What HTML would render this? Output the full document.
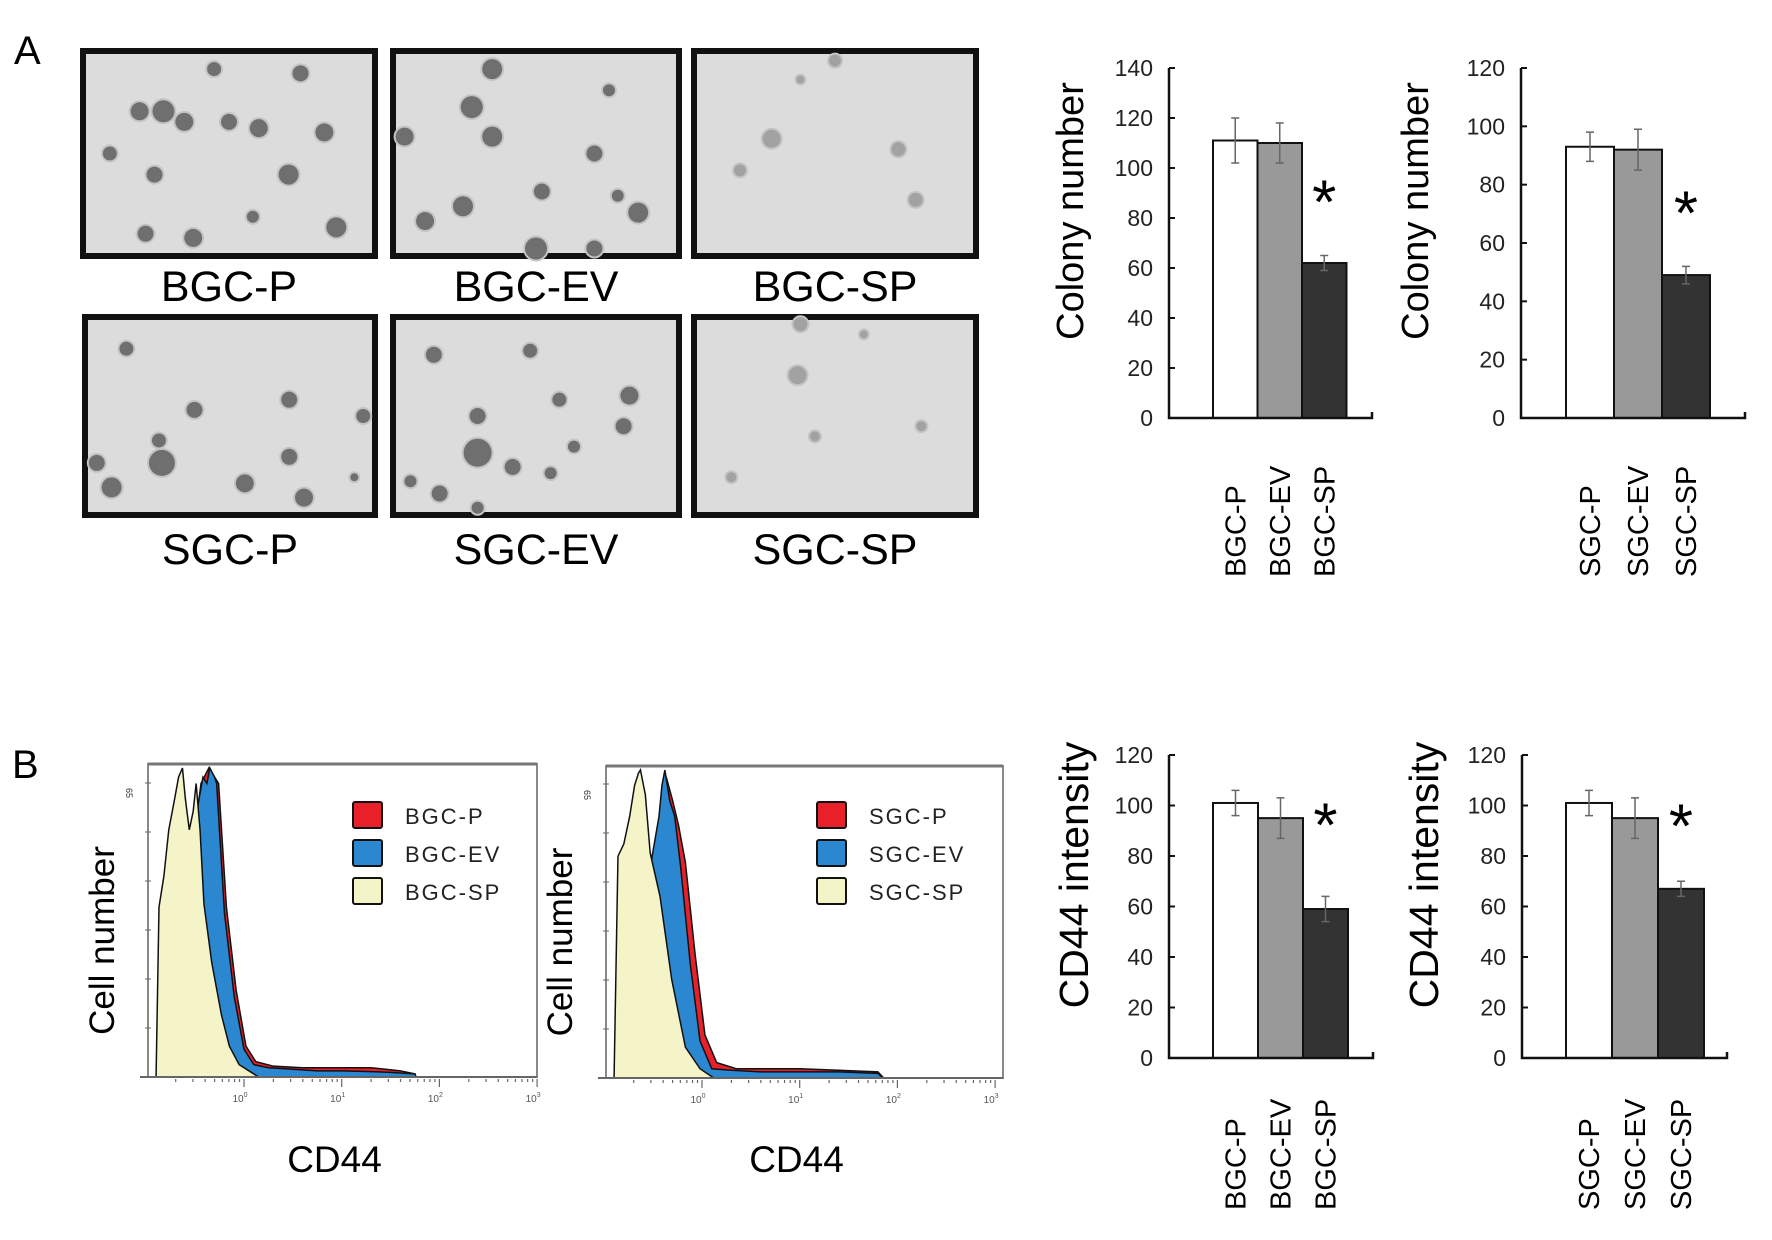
<!DOCTYPE html>
<html><head><meta charset="utf-8"><style>
body{margin:0;background:#fff;}
svg{display:block;font-family:"Liberation Sans",sans-serif;}
</style></head><body>
<svg id="fig" width="1772" height="1240" viewBox="0 0 1772 1240" xmlns="http://www.w3.org/2000/svg">
<rect width="1772" height="1240" fill="#fff"/>
<text x="14" y="64" font-size="40">A</text>
<text x="12" y="778" font-size="40">B</text>
<g id="photos"></g>
<g id="bars"></g>
<g id="flows"></g>
</svg>
<script>
// ===== bar chart data =====
const barCats1 = ["BGC-P","BGC-EV","BGC-SP"];
const barVals1 = [111,110,62];
const barErr1 = [9,8,3];
const barTicks1 = [0,20,40,60,80,100,120,140];
const barCats2 = ["SGC-P","SGC-EV","SGC-SP"];
const barVals2 = [93,92,49];
const barErr2 = [5,7,3];
const barTicks2 = [0,20,40,60,80,100,120];
const barVals3 = [101,95,59];
const barErr3 = [5,8,5];
const barTicks3 = [0,20,40,60,80,100,120];
const barVals4 = [101,95,67];
const barErr4 = [5,8,3];
const barTicks4 = [0,20,40,60,80,100,120];

// ===== flow histogram data (x = log10 CD44, y = fraction of max count) =====
const f1SpX = [-0.9,-0.87,-0.82,-0.77,-0.71,-0.67,-0.63,-0.6,-0.56,-0.52,-0.49,-0.45,-0.41,-0.33,-0.23,-0.15,-0.05,0.05,0.15];
const f1SpY = [0,0.55,0.65,0.8,0.9,0.97,1.0,0.9,0.8,0.86,0.95,0.8,0.56,0.37,0.2,0.1,0.04,0.02,0];
const f1EvX = [-0.9,-0.46,-0.42,-0.38,-0.35,-0.3,-0.28,-0.2,-0.1,0,0.1,0.25,0.5,0.75,1.0,1.25,1.5,1.75,1.76];
const f1EvY = [0,0.9,0.97,0.95,1.0,0.97,0.95,0.53,0.26,0.09,0.04,0.03,0.025,0.02,0.02,0.018,0.015,0.01,0];
const f1PX = [-0.9,-0.48,-0.44,-0.36,-0.3,-0.26,-0.18,-0.08,0.02,0.12,0.3,0.6,1.0,1.3,1.6,1.75,1.76];
const f1PY = [0,0.85,0.95,1.0,0.97,0.95,0.55,0.28,0.1,0.05,0.035,0.03,0.03,0.03,0.02,0.01,0];
const f2SpX = [-0.9,-0.86,-0.8,-0.74,-0.69,-0.65,-0.63,-0.58,-0.53,-0.48,-0.43,-0.31,-0.17,-0.02,0.12];
const f2SpY = [0,0.72,0.76,0.85,0.95,0.99,1.0,0.92,0.73,0.66,0.59,0.32,0.1,0.03,0];
const f2EvX = [-0.9,-0.44,-0.41,-0.38,-0.33,-0.28,-0.22,-0.12,-0.02,0.1,0.3,0.6,1.0,1.4,1.8,1.85];
const f2EvY = [0,0.85,0.95,1.0,0.9,0.85,0.69,0.37,0.12,0.03,0.025,0.02,0.02,0.02,0.015,0];
const f2PX = [-0.9,-0.44,-0.4,-0.36,-0.3,-0.24,-0.17,-0.07,0.03,0.15,0.35,0.7,1.0,1.4,1.8,1.86];
const f2PY = [0,0.8,0.92,0.97,0.9,0.82,0.7,0.4,0.14,0.05,0.03,0.03,0.03,0.025,0.02,0];

const NS="http://www.w3.org/2000/svg";
function mk(tag, attrs, parent){const e=document.createElementNS(NS,tag);for(const k in attrs)e.setAttribute(k,attrs[k]);parent.appendChild(e);return e;}

// ===== photos =====
const photos=document.getElementById('photos');
const photoBoxes=[[80,48,298,211,"BGC-P"],[390,48,292,211,"BGC-EV"],[691,48,288,211,"BGC-SP"],
 [82,314,296,204,"SGC-P"],[390,314,292,204,"SGC-EV"],[691,314,288,204,"SGC-SP"]];
const blobs=[
 [[.2,.3,9],[.28,.3,11],[.35,.35,9],[.5,.35,8],[.6,.38,9],[.82,.4,9],[.1,.5,7],[.25,.6,8],[.7,.6,10],[.22,.88,8],[.38,.9,9],[.86,.85,10],[.58,.8,6],[.45,.1,7],[.74,.12,8]],
 [[.35,.1,10],[.28,.28,11],[.35,.42,10],[.05,.42,9],[.7,.5,8],[.52,.68,8],[.25,.75,10],[.12,.82,9],[.85,.78,10],[.5,.95,11],[.7,.95,8],[.75,.2,6],[.78,.7,6]],
 [[.28,.43,9],[.72,.48,7],[.17,.58,6],[.78,.72,7],[.5,.06,6],[.38,.15,4]],
 [[.15,.17,7],[.7,.42,8],[.38,.47,8],[.7,.7,8],[.27,.73,13],[.05,.73,8],[.1,.85,10],[.55,.83,9],[.75,.9,9],[.26,.62,7],[.95,.5,7],[.92,.8,4]],
 [[.15,.2,8],[.48,.18,7],[.82,.4,9],[.3,.5,8],[.58,.42,7],[.3,.68,14],[.42,.75,8],[.55,.78,6],[.8,.55,8],[.17,.88,8],[.07,.82,6],[.3,.95,6],[.63,.65,6]],
 [[.38,.05,7],[.37,.3,9],[.8,.55,5],[.43,.6,5],[.14,.8,5],[.6,.1,4]]
];
photoBoxes.forEach((b,i)=>{
 const g=mk('g',{},photos);
 
 
 mk('rect',{x:b[0]+3,y:b[1]+3,width:b[2]-6,height:b[3]-6,fill:'#dcdcdc',stroke:'#111','stroke-width':6},g);
 blobs[i].forEach(p=>{
  mk('circle',{cx:b[0]+b[2]*p[0],cy:b[1]+b[3]*p[1],r:p[2]+2,fill:'#c4c4c4'},g);
  mk('circle',{cx:b[0]+b[2]*p[0],cy:b[1]+b[3]*p[1],r:p[2],fill:i==2||i==5?'#9a9a9a':'#5a5a5a',opacity:0.8},g);
 });
 const t=mk('text',{x:b[0]+b[2]/2,y:b[1]+b[3]+(i<3?42:46),'font-size':43,'text-anchor':'middle'},g);
 t.textContent=b[4];
});

// ===== bar charts =====
const barsG=document.getElementById('bars');
const fills=['#ffffff','#999999','#333333'];
function barChart(cfg){
 const g=mk('g',{},barsG);
 
 
 const maxV=cfg.ticks[cfg.ticks.length-1];
 const y=v=>cfg.y0-(cfg.y0-cfg.yTop)*v/maxV;
 const bw=cfg.bw;
 const bx=i=>cfg.bx0+i*bw;
 cfg.vals.forEach((v,i)=>{
  const r=mk('rect',{x:bx(i),y:y(v),width:bw,height:cfg.y0-y(v),fill:fills[i],stroke:'#111','stroke-width':2},g);
  
  
  const cx=bx(i)+bw/2, e=cfg.err[i];
  mk('path',{d:`M${cx},${y(v+e)}V${y(v-e)}M${cx-4},${y(v+e)}H${cx+4}M${cx-4},${y(v-e)}H${cx+4}`,stroke:'#666','stroke-width':1.5,fill:'none'},g);
  const t=mk('text',{transform:`translate(${cx+10},${cfg.labY}) rotate(-90)`,'font-size':29},g);
  
  
  t.textContent=cfg.cats[i];
 });
 mk('path',{d:`M${cfg.ax},${cfg.yTop}V${cfg.y0}H${cfg.xEnd}V${cfg.y0-6}`,stroke:'#111','stroke-width':2.5,fill:'none'},g);
 cfg.ticks.forEach(t=>{
  mk('line',{x1:cfg.ax,x2:cfg.ax+6,y1:y(t),y2:y(t),stroke:'#111','stroke-width':2},g);
  const tx=mk('text',{x:cfg.ax-16,y:y(t)+8,'font-size':23,'text-anchor':'end',fill:'#222'},g);
  tx.textContent=t;
 });
 const tt=mk('text',{transform:`translate(${cfg.titleX},${cfg.titleY}) rotate(-90)`,'font-size':cfg.titleSize,'text-anchor':'middle'},g);
 
 
 tt.textContent=cfg.title;
 const st=mk('text',{x:bx(2)+bw/2,y:y(cfg.vals[2]+cfg.err[2])-cfg.starGap-12,'font-size':62,'text-anchor':'middle'},g);
 
 
 st.textContent='*';
}
barChart({name:'colony-chart-bgc',cats:barCats1,vals:barVals1,err:barErr1,ticks:barTicks1,ax:1169,xEnd:1372,yTop:68,y0:418,bx0:1213,bw:44.5,labY:577,title:'Colony number',titleX:1083,titleY:211,titleSize:38,starGap:20});
barChart({name:'colony-chart-sgc',cats:barCats2,vals:barVals2,err:barErr2,ticks:barTicks2,ax:1521,xEnd:1745,yTop:68,y0:418,bx0:1566,bw:48,labY:577,title:'Colony number',titleX:1428,titleY:211,titleSize:38,starGap:20});
barChart({name:'cd44-chart-bgc',cats:barCats1,vals:barVals3,err:barErr3,ticks:barTicks3,ax:1169,xEnd:1373,yTop:755,y0:1058,bx0:1213,bw:45,labY:1210,title:'CD44 intensity',titleX:1088,titleY:875,titleSize:41,starGap:38});
barChart({name:'cd44-chart-sgc',cats:barCats2,vals:barVals4,err:barErr4,ticks:barTicks4,ax:1522,xEnd:1727,yTop:755,y0:1058,bx0:1566,bw:46,labY:1210,title:'CD44 intensity',titleX:1438,titleY:875,titleSize:41,starGap:22});

// ===== flow histograms =====
const flowsG=document.getElementById('flows');
function flow(cfg){
 const g=mk('g',{},flowsG);
 
 
 const dec=97.7;
 const x=v=>cfg.x10+ v*dec;
 const y=f=>cfg.y0-(cfg.y0-cfg.top-4)*f;
 mk('rect',{x:cfg.left,y:cfg.top,width:cfg.right-cfg.left,height:cfg.y0-cfg.top,fill:'#fff',stroke:'#888','stroke-width':2},g);
 mk('line',{x1:cfg.left,x2:cfg.right,y1:cfg.top,y2:cfg.top,stroke:'#777','stroke-width':3},g);
 const series=[[cfg.pX,cfg.pY,'#e8202a','red'],[cfg.evX,cfg.evY,'#2b87d0','blue'],[cfg.spX,cfg.spY,'#f5f3c8','yellow']];
 series.forEach(s=>{
  let d=`M${x(s[0][0])},${cfg.y0}`;
  s[0].forEach((v,i)=>{d+=`L${x(v)},${y(s[1][i])}`;});
  d+=`L${x(s[0][s[0].length-1])},${cfg.y0}Z`;
  const p=mk('path',{d,fill:s[2],stroke:'#111','stroke-width':1.5},g);
  
  
 });
 mk('line',{x1:cfg.left-8,x2:cfg.right,y1:cfg.y0,y2:cfg.y0,stroke:'#666','stroke-width':2},g);
 for(let k=0;k<7;k++){const yy=cfg.y0-k*49;mk('line',{x1:cfg.left-3,x2:cfg.left+3,y1:yy,y2:yy,stroke:'#666','stroke-width':1},g);}
 for(let dcd=-1;dcd<3;dcd++){for(let m=2;m<=10;m++){const xx=x(dcd+Math.log10(m));mk('line',{x1:xx,x2:xx,y1:cfg.y0+2,y2:cfg.y0+(m==10?10:5),stroke:'#666','stroke-width':1.2},g);}}
 ['0','1','2','3'].forEach((e,i)=>{const t=mk('text',{x:x(i)-4,y:cfg.y0+25,'font-size':10,'text-anchor':'middle',fill:'#555'},g);t.innerHTML='10<tspan font-size="7" dy="-5">'+e+'</tspan>';});
 const t65=mk('text',{transform:`translate(${cfg.left-22},${cfg.top+24}) rotate(90)`,'font-size':9,fill:'#333'},g);t65.textContent='65';
 const yt=mk('text',{transform:`translate(${cfg.left-34},${(cfg.top+cfg.y0)/2+20}) rotate(-90)`,'font-size':35,'text-anchor':'middle'},g);
 
 
 yt.textContent='Cell number';
 const xt=mk('text',{x:(cfg.left+cfg.right)/2-8,y:1172,'font-size':37,'text-anchor':'middle'},g);
 
 
 xt.textContent='CD44';
 cfg.legend.forEach((lab,i)=>{
  const le=mk('g',{},g);
  
  
  mk('rect',{x:cfg.legX,y:802+i*38,width:29,height:26,rx:2,fill:['#e8202a','#2b87d0','#f5f3c8'][i],stroke:'#111','stroke-width':2},le);
  const t=mk('text',{x:cfg.legX+52,y:824+i*38,'font-size':22,'letter-spacing':'2','fill':'#222'},le);
  t.textContent=lab;
 });
}
flow({name:'flow-bgc',left:148,right:537,top:764,y0:1077,x10:244,spX:f1SpX,spY:f1SpY,evX:f1EvX,evY:f1EvY,pX:f1PX,pY:f1PY,legX:353,legend:['BGC-P','BGC-EV','BGC-SP']});
flow({name:'flow-sgc',left:606,right:1003,top:766,y0:1078,x10:702,spX:f2SpX,spY:f2SpY,evX:f2EvX,evY:f2EvY,pX:f2PX,pY:f2PY,legX:817,legend:['SGC-P','SGC-EV','SGC-SP']});
</script>
</body></html>
